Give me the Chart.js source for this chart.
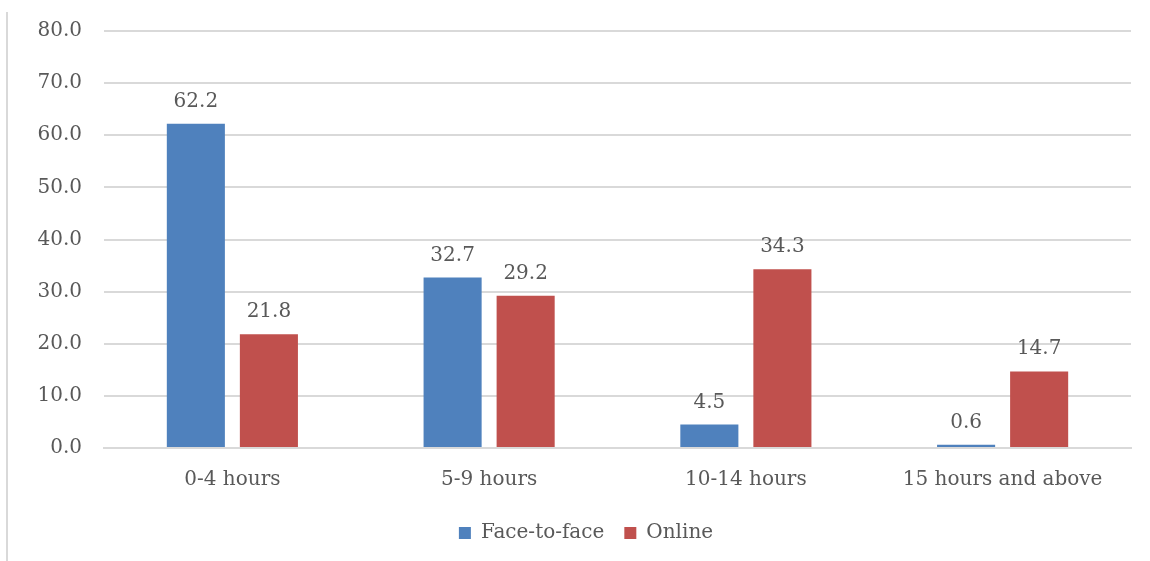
<!DOCTYPE html>
<html>
<head>
<meta charset="utf-8">
<script src="https://cdn.jsdelivr.net/npm/chart.js@4.4.1/dist/chart.umd.min.js"></script>
<style>
  html, body { margin: 0; padding: 0; background: #ffffff; }
  #wrap { position: relative; width: 1150px; height: 561px; }
  #edge { position: absolute; left: 6px; top: 12px; width: 2px; height: 549px; background: #d9d9d9; }
  canvas { position: absolute; left: 0; top: 0; }
</style>
</head>
<body>
<div id="wrap">
  <div id="edge"></div>
  <canvas id="chart" width="1150" height="561"></canvas>
</div>
<script>
// Weekly hours spent, by mode of learning (%)
const categories = ['0-4 hours', '5-9 hours', '10-14 hours', '15 hours and above'];
const faceToFace = [62.2, 32.7, 4.5, 0.6];
const online = [21.8, 29.2, 34.3, 14.7];
const seriesNames = ['Face-to-face', 'Online'];

const FONT = "'DejaVu Serif', 'Liberation Serif', serif";
const TEXT = '#595959';
const SIZE = 20;

// Value labels printed above each bar
const valueLabels = {
  id: 'valueLabels',
  afterDatasetsDraw(chart) {
    const ctx = chart.ctx;
    ctx.save();
    ctx.font = SIZE + 'px ' + FONT;
    ctx.fillStyle = TEXT;
    ctx.textAlign = 'center';
    ctx.textBaseline = 'alphabetic';
    chart.data.datasets.forEach((ds, i) => {
      chart.getDatasetMeta(i).data.forEach((bar, j) => {
        ctx.fillText(ds.data[j].toFixed(1), bar.x, bar.y - 17);
      });
    });
    ctx.restore();
  }
};

// Centre the legend under the plot rather than the whole canvas
const legendShift = {
  id: 'legendShift',
  afterLayout(chart) {
    if (chart.legend) chart.legend.left = 41;
  }
};

new Chart(document.getElementById('chart'), {
  type: 'bar',
  data: {
    labels: categories,
    datasets: [
      { label: seriesNames[0], data: faceToFace, backgroundColor: '#4f81bd' },
      { label: seriesNames[1], data: online, backgroundColor: '#c0504d' }
    ]
  },
  options: {
    responsive: false,
    animation: false,
    layout: { padding: { top: 31, right: 19, bottom: 8, left: 0 } },
    datasets: { bar: { categoryPercentage: 0.569, barPercentage: 0.795 } },
    scales: {
      x: {
        grid: { display: false, drawTicks: false },
        border: { display: true, color: '#d9d9d9', width: 2 },
        ticks: { color: TEXT, font: { family: FONT, size: SIZE }, padding: 20 },
        afterFit(scale) { scale.height = 55; }
      },
      y: {
        min: 0, max: 80,
        grid: { color: '#d9d9d9', lineWidth: 2, drawTicks: false },
        border: { display: false },
        ticks: {
          stepSize: 10, color: TEXT, font: { family: FONT, size: SIZE }, padding: 22,
          callback: v => v.toFixed(1)
        },
        afterFit(scale) {
          scale.width = 104;
          scale.paddingTop = 0;
          scale.paddingBottom = 0;
        }
      }
    },
    plugins: {
      legend: {
        position: 'bottom',
        labels: {
          color: TEXT, font: { family: FONT, size: SIZE },
          boxWidth: 12, boxHeight: 12, padding: 20
        }
      },
      tooltip: { enabled: false }
    }
  },
  plugins: [valueLabels, legendShift]
});
</script>
</body>
</html>
